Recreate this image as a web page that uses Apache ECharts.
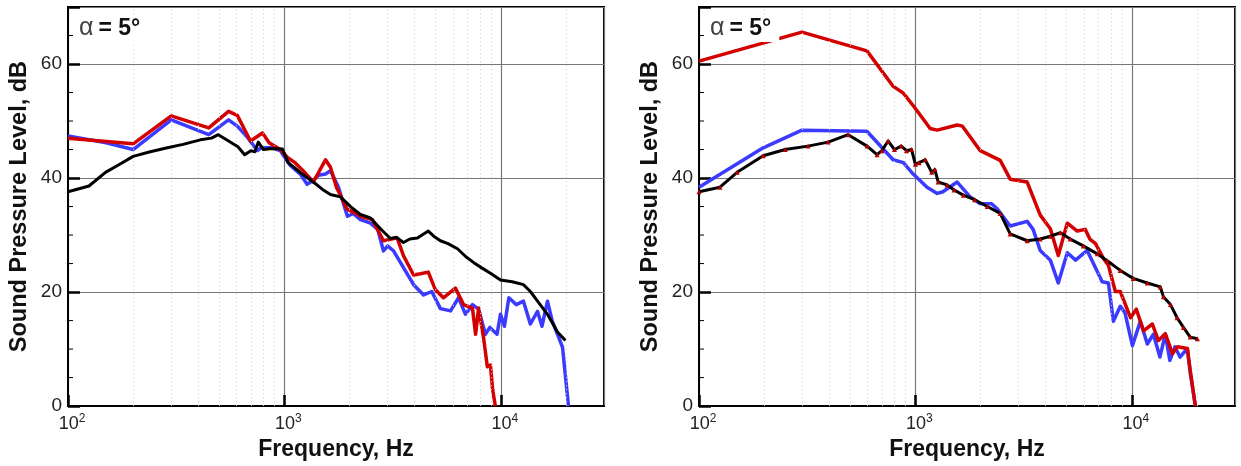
<!DOCTYPE html>
<html>
<head>
<meta charset="utf-8">
<title>Sound Pressure Level spectra</title>
<script src="https://cdn.jsdelivr.net/npm/echarts@6/dist/echarts.min.js"></script>
<style>
  html, body { margin: 0; padding: 0; background: #fff; }
  #chart { width: 1241px; height: 466px; }
</style>
</head>
<body>
<div id="chart"></div>
<script>
// ---- Left panel spectra (frequency in Hz, level in dB) ----
const leftBlackHz = [100,125,149,175,200,240,288,340,409,460,495,552,610,655,700,730,758,800,880,980,1040,1100,1200,1361,1500,1633,1815,2023,2245,2500,2780,3090,3300,3550,3800,4120,4625,4900,5260,5700,6310,6900,7480,8200,8960,9970,11300,12730,13700,14790,16440,18290,19900];
const leftBlackDb = [37.6,38.6,41.0,42.5,43.8,44.6,45.3,45.9,46.7,47.0,47.6,46.5,45.5,44.1,44.8,44.6,46.3,45.0,45.2,45.1,42.7,42.0,40.8,39.3,38.0,37.1,36.7,35.0,33.6,33.0,31.1,29.4,29.6,28.7,29.3,29.5,30.7,29.8,29.0,28.5,27.6,26.2,25.2,24.2,23.3,22.1,21.8,21.3,20.1,18.4,16.1,13.0,11.5];

const leftBlueHz = [100,150,200,300,447,552,606,680,750,780,870,958,1065,1185,1274,1361,1437,1550,1633,1778,1955,2080,2245,2500,2700,2870,3000,3200,3955,4400,4800,5260,5865,6380,6870,7400,7900,8490,8900,9610,9970,10400,10900,11800,12730,13700,14790,15500,16440,17300,18290,19300,19700,20560];
const leftBlueDb = [47.4,46.2,45.0,50.2,47.6,50.2,49.1,47.0,44.8,45.3,45.3,44.8,42.2,40.7,38.9,39.6,40.5,40.7,41.3,38.4,33.3,33.8,32.7,32.1,31.0,27.2,28.1,27.2,21.3,19.5,20.1,17.1,16.7,19.0,16.1,17.8,17.0,12.6,13.8,12.6,16.1,14.0,19.0,17.8,18.4,14.4,16.6,14.0,18.4,14.9,12.6,10.3,6.9,0];

const leftRedHz = [100,200,300,447,552,606,697,792,850,958,1033,1120,1220,1361,1549,1633,1740,1955,2150,2245,2553,2870,3320,3550,3955,4255,4625,4990,5430,6170,6730,7400,7650,7900,8320,8670,8960,9170,9440];
const leftRedDb = [47.0,46.0,50.9,48.8,51.7,51.0,46.5,47.9,46.2,45.0,43.6,42.7,41.3,39.3,43.2,41.9,38.4,34.5,33.8,33.3,32.7,29.0,29.5,26.4,23.0,23.2,23.5,20.4,19.0,20.7,17.8,17.2,12.6,17.2,12.1,6.9,7.2,2.9,0];

// ---- Right panel spectra ----
const rightBlackHz = [100,125,150,198,250,319,395,489,598,665,700,748,800,860,910,960,1000,1040,1110,1190,1230,1275,1400,1510,1665,1880,2148,2466,2742,3286,3776,4205,4680,5200,5970,6930,7700,8850,10160,11800,13550,14000,15100,16200,17330,18630,20100];
const rightBlackDb = [37.6,38.4,41.0,43.9,45.0,45.6,46.3,47.6,45.6,44.1,44.8,46.5,45.0,45.6,44.8,45.0,42.4,42.7,43.2,41.0,41.5,39.3,38.8,37.9,37.0,36.2,35.0,33.8,30.2,29.0,29.3,29.8,30.4,29.3,28.1,26.7,25.5,23.8,22.4,21.6,20.9,19.2,17.8,15.5,13.8,12.1,11.8];

const rightBlueHz = [100,198,299,597,789,880,977,1132,1262,1340,1560,1790,1995,2250,2390,2742,3286,3500,3776,4205,4575,5035,5500,6220,6650,7300,7800,8225,8850,9300,10070,10960,11800,12590,13490,14290,15000,15830,16710,18070,18630,19680];
const rightBlueDb = [38.4,45.3,48.4,48.2,43.2,42.7,40.7,38.4,37.3,37.6,39.3,36.7,35.5,35.5,34.6,31.6,32.4,31.0,27.3,25.6,21.6,26.9,25.6,27.3,25.0,21.8,21.6,14.9,17.5,16.4,10.6,14.9,10.9,12.6,8.6,12.6,8.0,10.4,8.6,10.1,5.8,0];

const rightRedHz = [100,299,597,789,880,1000,1170,1262,1560,1650,1995,2466,2742,3286,3776,4205,4575,5035,5600,6095,6400,6800,7395,7800,8395,8850,9865,10500,11330,12450,13280,14290,15420,16260,18070,18630,19680];
const rightRedDb = [60.5,65.6,62.3,56.1,54.9,52.2,48.7,48.4,49.3,49.1,44.8,43.1,39.8,39.3,33.5,31.1,26.4,32.1,30.7,31.0,29.3,28.5,25.9,24.7,20.1,20.1,15.5,17.0,13.2,14.4,11.5,12.7,9.2,10.4,10.1,6.3,0];

// ---- Axis ticks ----
const minorHz = [200,300,400,500,600,700,800,900,2000,3000,4000,5000,6000,7000,8000,9000,20000];
const yMajorTicks = [0, 20, 40, 60];
const yMinorTicks = [5,10,15,25,30,35,45,50,55,65];
const panelLabel = '\u03b1';
const panelAngle = '= 5\u00b0';

const RED = '#d40000';
const BLUE = '#3b3bff';
const FONT = '"Liberation Sans", Arial, Helvetica, sans-serif';
const X_MIN = 100, X_MAX = 30000;

const zip = (xs, ys) => xs.map((x, i) => [x, ys[i]]);

const gridLeft = [68, 699];
const gridW = 536;

function xAxisFor(i) {
  return {
    type: 'log', logBase: 10, min: X_MIN, max: X_MAX, gridIndex: i,
    name: 'Frequency, Hz', nameLocation: 'middle', nameGap: 24,
    nameTextStyle: { fontFamily: FONT, fontWeight: 'bold', fontSize: 23, color: '#111' },
    axisLine: { show: true, lineStyle: { color: '#000', width: 2 } },
    axisTick: { show: true, inside: true, length: 11, lineStyle: { color: '#000', width: 2.5 } },
    splitLine: { show: true, lineStyle: { color: '#777', width: 1.2 } },
    minorTick: { show: false }, minorSplitLine: { show: false },
    axisLabel: {
      margin: 7, color: '#222', fontFamily: FONT, fontSize: 18,
      showMaxLabel: false,
      formatter: v => {
        const e = Math.log10(v);
        if (Math.abs(e - Math.round(e)) > 1e-6) return '';
        return '{b|10}{s|' + Math.round(e) + '}';
      },
      rich: {
        b: { fontFamily: FONT, fontSize: 18, color: '#222', padding: [0, 0, 0, 8] },
        s: { fontFamily: FONT, fontSize: 12, color: '#222', padding: [0, 0, 10, 0] }
      }
    }
  };
}

function yAxisFor(i) {
  return {
    type: 'value', min: 0, max: 70, interval: 20, gridIndex: i, position: 'left',
    name: 'Sound Pressure Level, dB', nameLocation: 'middle', nameGap: 36, nameRotate: 90,
    nameTextStyle: { fontFamily: FONT, fontWeight: 'bold', fontSize: 23.5, color: '#111' },
    axisLine: { show: true, lineStyle: { color: '#000', width: 2 } },
    axisTick: { show: true, inside: true, length: 12, lineStyle: { color: '#000', width: 2.5 } },
    splitLine: { show: true, lineStyle: { color: '#777', width: 1.2 } },
    axisLabel: {
      margin: 6, color: '#222', fontFamily: FONT, fontSize: 19,
      formatter: v => (yMajorTicks.indexOf(v) >= 0 ? String(v) : '')
    }
  };
}

function lineSeries(i, name, data, color, width, z, extra) {
  return Object.assign({
    type: 'line', name, xAxisIndex: i, yAxisIndex: i,
    data, showSymbol: false, smooth: false, clip: true, z,
    lineStyle: { color, width, join: 'round' },
    itemStyle: { color },
    emphasis: { disabled: true }
  }, extra || {});
}

function minorGridSeries(i) {
  return {
    type: 'line', xAxisIndex: i, yAxisIndex: i, data: [], z: 1, silent: true,
    markLine: {
      silent: true, symbol: 'none', animation: false,
      label: { show: false },
      lineStyle: { color: '#cfcfcf', width: 1, type: [1, 3] },
      data: minorHz.map(h => ({ xAxis: h }))
    }
  };
}

// short 5 dB tick marks on the inner side of the left axis
function minorTickSeries(i) {
  return {
    type: 'custom', xAxisIndex: i, yAxisIndex: i, silent: true, z: 6, clip: false,
    data: yMinorTicks.map(v => [X_MIN, v]),
    renderItem: (params, api) => {
      const p = api.coord([api.value(0), api.value(1)]);
      return {
        type: 'line',
        shape: { x1: p[0], y1: p[1], x2: p[0] + 5, y2: p[1] },
        style: { stroke: '#000', lineWidth: 1 }
      };
    }
  };
}

const chart = echarts.init(document.getElementById('chart'), null, { renderer: 'canvas' });

chart.setOption({
  animation: false,
  backgroundColor: '#fff',
  textStyle: { fontFamily: FONT },
  grid: gridLeft.map(l => ({
    left: l, width: gridW, top: 7, height: 407,
    show: true, borderColor: '#000', borderWidth: 2, backgroundColor: 'transparent'
  })),
  title: gridLeft.map(l => ({
    text: '{a|' + panelLabel + '} {b|' + panelAngle + '}',
    left: l + 9, top: 15,
    padding: [1, 8, 1, 2],
    backgroundColor: '#fff',
    textStyle: {
      fontWeight: 'normal',
      rich: {
        a: { fontFamily: FONT, fontSize: 25, fontWeight: 'normal', color: '#444' },
        b: { fontFamily: FONT, fontSize: 23, fontWeight: 'bold', color: '#111' }
      }
    },
    z: 10
  })),
  xAxis: [xAxisFor(0), xAxisFor(1)],
  yAxis: [yAxisFor(0), yAxisFor(1)],
  series: [
    minorGridSeries(0),
    minorTickSeries(0),
    lineSeries(0, 'blue', zip(leftBlueHz, leftBlueDb), BLUE, 3.5, 3),
    lineSeries(0, 'red', zip(leftRedHz, leftRedDb), RED, 3.5, 4),
    lineSeries(0, 'black', zip(leftBlackHz, leftBlackDb), '#000', 3, 5),
    minorGridSeries(1),
    minorTickSeries(1),
    lineSeries(1, 'blue', zip(rightBlueHz, rightBlueDb), BLUE, 3.5, 3),
    lineSeries(1, 'red', zip(rightRedHz, rightRedDb), RED, 3.5, 4),
    lineSeries(1, 'black', zip(rightBlackHz, rightBlackDb), '#000', 3, 5, {
      showSymbol: true, symbol: 'triangle', symbolSize: 5,
      itemStyle: { color: '#b00000', borderWidth: 0 }
    })
  ]
});
</script>
</body>
</html>
